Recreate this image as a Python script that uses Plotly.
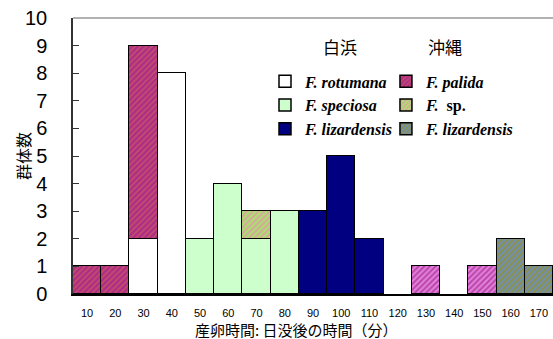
import plotly.graph_objects as go

# x categories: minutes after sunset
minutes = [10, 20, 30, 40, 50, 60, 70, 80, 90, 100, 110, 120, 130, 140, 150, 160, 170]
tick_labels = [str(m) for m in minutes]

# Shirahama (白浜)
rotumana_s    = [None, None, 2, 8, None, None, None, None, None, None, None, None, None, None, None, None, None]
speciosa_s    = [None, None, None, None, 2, 4, 2, 3, None, None, None, None, None, None, None, None, None]
lizardensis_s = [None, None, None, None, None, None, None, None, 3, 5, 2, None, None, None, None, None, None]
# Okinawa (沖縄)
palida_o      = [1, 1, 7, None, None, None, None, None, None, None, None, None, None, None, None, None, None]
sp_o          = [None, None, None, None, None, None, 1, None, None, None, None, None, None, None, None, None, None]
pink_o        = [None, None, None, None, None, None, None, None, None, None, None, None, 1, None, 1, None, None]
lizardensis_o = [None, None, None, None, None, None, None, None, None, None, None, None, None, None, None, 2, 1]

y_ticks = list(range(0, 11))

fig = go.Figure()

def add_bar(y, name, color, legend, group, pattern=None, showlegend=True):
    marker = dict(color=color, line=dict(color="black", width=1.5))
    if pattern:
        marker["pattern"] = dict(shape="/", fgcolor=pattern, bgcolor=color, size=4, solidity=0.45, fillmode="replace")
    fig.add_trace(go.Bar(x=minutes, y=y, name=name, marker=marker, width=10,
                         legend=legend, legendgroup=group, showlegend=showlegend))

add_bar(rotumana_s, "<b><i>F. rotumana</i></b>", "white", "legend", "a")
add_bar(speciosa_s, "<b><i>F. speciosa</i></b>", "#ccffcc", "legend", "b")
add_bar(lizardensis_s, "<b><i>F. lizardensis</i></b>", "#000080", "legend", "c")
add_bar(palida_o, "<b><i>F. palida</i></b>", "#b02a88", "legend2", "d", pattern="#c0506a")
add_bar(sp_o, "<b><i>F.</i>\u00a0 sp.</b>", "#a8e070", "legend2", "e", pattern="#e0a0a0")
add_bar(pink_o, "pink", "#e080d8", "legend2", "f", pattern="#b840a8", showlegend=False)
add_bar(lizardensis_o, "<b><i>F. lizardensis</i></b>", "#7090b0", "legend2", "g", pattern="#909040")

legend_common = dict(
    font=dict(family="Liberation Serif", size=16, color="black"),
    bgcolor="rgba(0,0,0,0)", tracegroupgap=8, xanchor="left", yanchor="top",
    traceorder="normal",
)
fig.update_layout(
    barmode="stack", bargap=0,
    width=553, height=339,
    margin=dict(l=73, r=0, t=18, b=45),
    paper_bgcolor="white", plot_bgcolor="white",
    font=dict(family="Liberation Sans", color="black"),
    legend=dict(x=0.40, y=0.832, **legend_common),
    legend2=dict(x=0.652, y=0.832, **legend_common),
    xaxis=dict(range=[5, 175], tickvals=minutes, ticktext=tick_labels,
               showgrid=False, showline=True, linecolor="black", linewidth=2,
               ticks="", tickfont=dict(size=11), ticklabelstandoff=8,
               automargin=False),
    yaxis=dict(range=[0, 10], tickvals=y_ticks, showgrid=False, zeroline=False,
               showline=True, linecolor="#333", linewidth=1.5,
               ticks="inside", ticklen=6, tickcolor="#333",
               tickfont=dict(size=20), ticklabelstandoff=20,
               automargin=False),
    shapes=[dict(type="line", xref="paper", yref="paper", x0=0, x1=1, y0=1, y1=1,
                 line=dict(color="#999", width=1.5))],
    annotations=[
        dict(text="白浜", xref="paper", yref="paper", x=0.556, y=0.895,
             xanchor="center", yanchor="middle", showarrow=False,
             font=dict(family="Noto Sans CJK JP", size=17)),
        dict(text="沖縄", xref="paper", yref="paper", x=0.775, y=0.895,
             xanchor="center", yanchor="middle", showarrow=False,
             font=dict(family="Noto Sans CJK JP", size=17)),
        dict(text="産卵時間: 日没後の時間（分）", xref="paper", yref="paper",
             x=0.465, y=0, yshift=-35, xanchor="center", yanchor="middle", showarrow=False,
             font=dict(family="Noto Sans CJK JP", size=15)),
        dict(text="群体数", xref="paper", yref="paper", x=0, xshift=-50,
             y=0.5, xanchor="center", yanchor="middle", textangle=-90, showarrow=False,
             font=dict(family="Noto Sans CJK JP", size=16)),
    ],
)

fig.write_html("out.html", config={"displayModeBar": False},
               post_script="document.body.style.margin='0';document.body.style.overflow='hidden';")
